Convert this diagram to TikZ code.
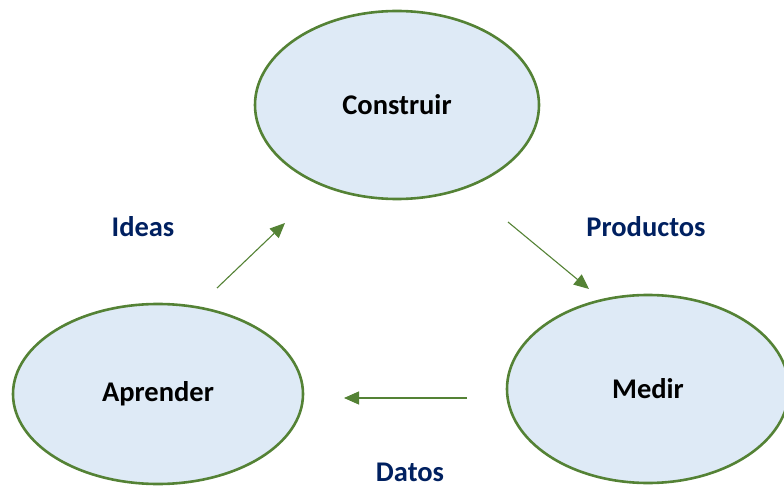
\documentclass[tikz,border=0pt]{standalone}
\usepackage{fontspec}
\setmainfont{Carlito}
\usetikzlibrary{shapes.geometric,arrows.meta}
\definecolor{fillblue}{HTML}{DEEAF6}
\definecolor{edgegreen}{HTML}{548235}
\definecolor{navy}{HTML}{002060}
\begin{document}
\begin{tikzpicture}[x=1pt,y=-1pt,
  phase/.style={ellipse, draw=edgegreen, fill=fillblue, line width=2.6pt,
    minimum width=#1, inner sep=0pt, font=\fontsize{28.5}{34}\selectfont\bfseries, text=black},
  flow/.style={draw=edgegreen, line width=1.1pt, -{Triangle[length=15pt,width=13pt]}},
  lbl/.style={inner sep=0pt, font=\fontsize{28.5}{34}\selectfont\bfseries, text=navy}]
\useasboundingbox (0,0) rectangle (784,486);
\clip (0,0) rectangle (784,486);
\node[phase=284pt, minimum height=188pt] (construir) at (397,105) {Construir};
\node[phase=290pt, minimum height=180pt] (aprender) at (158,394) {Aprender};
\node[phase=282pt, minimum height=188pt] (medir) at (648,389) {Medir};
\coordinate (i1) at (217,288);
\coordinate (i2) at (285,223);
\coordinate (p1) at (508,222);
\coordinate (p2) at (589,289);
\coordinate (d1) at (467,398);
\coordinate (d2) at (344,398);
\draw[flow] (i1) -- (i2);
\draw[flow] (p1) -- (p2);
\draw[flow] (d1) -- (d2);
\node[lbl] (ideas) at (143,227) {Ideas};
\node[lbl] (productos) at (646,227) {Productos};
\node[lbl] (datos) at (410,472) {Datos};
\end{tikzpicture}
\end{document}
